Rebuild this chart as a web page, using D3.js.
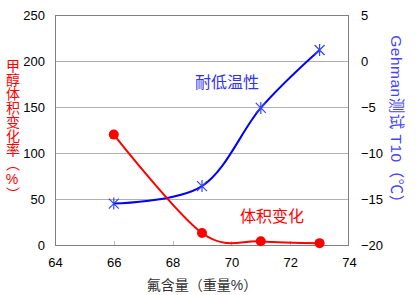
<!DOCTYPE html>
<html>
<head>
<meta charset="UTF-8">
<script src="https://cdn.jsdelivr.net/npm/d3@7"></script>
<style>
  body { margin: 0; background: #fff; }
  text { font-family: "Liberation Sans", "Noto Sans CJK SC", sans-serif; }
</style>
</head>
<body>
<script>
// data
var fluorine = [66, 69, 71, 73];
var volumeChange = [120, 13, 4, 2];      // 甲醇体积变化率 (%)
var gehmanT10 = [-15.5, -13.6, -5.1, 1.2]; // Gehman T10 (℃)
var xTicks = [64, 66, 68, 70, 72, 74];
var leftTicks = [0, 50, 100, 150, 200, 250];
var rightTicks = [-20, -15, -10, -5, 0, 5];

var W = 419, H = 295;
var m = {left: 55, right: 70, top: 15, bottom: 50};

var svg = d3.select("body").append("svg")
    .attr("width", W)
    .attr("height", H);

var x = d3.scaleLinear().domain([64, 74]).range([m.left, W - m.right]);
var yL = d3.scaleLinear().domain([0, 250]).range([H - m.bottom, m.top]);
var yR = d3.scaleLinear().domain([-20, 5]).range([H - m.bottom, m.top]);

//Grid lines.
svg.append("g").selectAll("line")
    .data(leftTicks.slice(1, -1))
    .join("line")
    .attr("x1", m.left).attr("x2", W - m.right)
    .attr("y1", d => Math.round(yL(d)) + 0.5)
    .attr("y2", d => Math.round(yL(d)) + 0.5)
    .attr("stroke", "#b0b0b0");

//Inside tick marks on the bottom.
svg.append("g").selectAll("line")
    .data(xTicks.slice(1, -1))
    .join("line")
    .attr("x1", d => Math.round(x(d)) + 0.5)
    .attr("x2", d => Math.round(x(d)) + 0.5)
    .attr("y1", H - m.bottom - 4).attr("y2", H - m.bottom)
    .attr("stroke", "#c0c0c0");

//Frame.
svg.append("rect")
    .attr("x", m.left + 0.5).attr("y", m.top + 0.5)
    .attr("width", W - m.right - m.left - 1)
    .attr("height", H - m.bottom - m.top)
    .attr("fill", "none")
    .attr("stroke", "#808080");

//Axes (labels only, the frame is drawn above).
var fmt = d => String(d).replace("-", "\u2212");
var xAxis = svg.append("g")
    .attr("transform", "translate(0," + (H - m.bottom) + ")")
    .call(d3.axisBottom(x).tickValues(xTicks).tickSize(0).tickPadding(13));
var lAxis = svg.append("g")
    .attr("transform", "translate(" + m.left + ",0)")
    .call(d3.axisLeft(yL).tickValues(leftTicks).tickSize(0).tickPadding(10));
var rAxis = svg.append("g")
    .attr("transform", "translate(" + (W - m.right) + ",0)")
    .call(d3.axisRight(yR).tickValues(rightTicks).tickFormat(fmt).tickSize(0).tickPadding(12));
[xAxis, lAxis, rAxis].forEach(function(a) {
    a.select(".domain").remove();
    a.selectAll("text").attr("font-size", 13).attr("fill", "#000")
        .attr("font-family", "Liberation Sans, sans-serif");
});

//Smoothed lines.
var redLine = d3.line()
    .x((d, i) => x(fluorine[i]))
    .y(d => yL(d))
    .curve(d3.curveCardinal.tension(0));
var blueLine = d3.line()
    .x((d, i) => x(fluorine[i]))
    .y(d => yR(d))
    .curve(d3.curveCardinal.tension(0));

svg.append("path")
    .attr("d", blueLine(gehmanT10))
    .attr("fill", "none")
    .attr("stroke", "#0000ff")
    .attr("stroke-width", 2);

svg.append("path")
    .attr("d", redLine(volumeChange))
    .attr("fill", "none")
    .attr("stroke", "#ff0000")
    .attr("stroke-width", 2);

//Red circle markers.
svg.append("g").selectAll("circle")
    .data(volumeChange)
    .join("circle")
    .attr("cx", (d, i) => x(fluorine[i]))
    .attr("cy", d => yL(d))
    .attr("r", 5)
    .attr("fill", "#ff0000");

//Blue asterisk markers.
var star = "M-5,-5L5,5M-5,5L5,-5M0,-6L0,6";
svg.append("g").selectAll("path")
    .data(gehmanT10)
    .join("path")
    .attr("transform", (d, i) => "translate(" + x(fluorine[i]) + "," + yR(d) + ")")
    .attr("d", star)
    .attr("fill", "none")
    .attr("stroke", "#3344ff")
    .attr("stroke-width", 1.2);

//Series labels.
svg.append("text")
    .attr("x", 195).attr("y", 88)
    .attr("font-size", 16)
    .attr("fill", "#3333ee")
    .text("耐低温性");
svg.append("text")
    .attr("x", 240).attr("y", 222)
    .attr("font-size", 16)
    .attr("fill", "#ff0000")
    .text("体积变化");

//Axis titles.
svg.append("text")
    .attr("x", 202).attr("y", 290)
    .attr("text-anchor", "middle")
    .attr("font-size", 14)
    .attr("fill", "#333")
    .text("氟含量（重量%）");

svg.append("text")
    .attr("x", 12).attr("y", 130)
    .attr("text-anchor", "middle")
    .attr("font-size", 14)
    .attr("fill", "#ff0000")
    .style("writing-mode", "vertical-rl")
    .style("text-orientation", "upright")
    .text("甲醇体积变化率（%）");

svg.append("text")
    .attr("transform", "translate(391,123) rotate(90)")
    .attr("text-anchor", "middle")
    .attr("font-size", 15.5)
    .attr("letter-spacing", 0.5)
    .attr("fill", "#4444ff")
    .text("Gehman测试 T10（℃）");
</script>
</body>
</html>
